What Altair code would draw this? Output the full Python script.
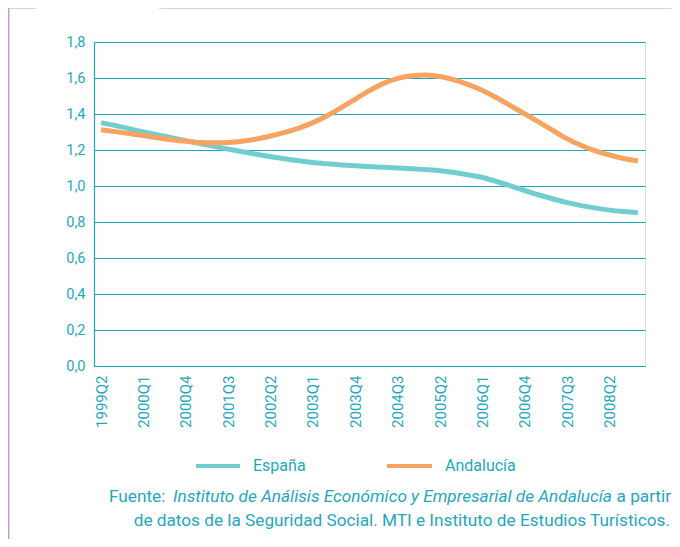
import altair as alt
import pandas as pd

# ---- data -------------------------------------------------------------
quarters = [f"{y}Q{q}" for y in range(1999, 2009) for q in range(1, 5)][1:]  # 1999Q2 .. 2008Q4
tick_labels = ["1999Q2", "2000Q1", "2000Q4", "2001Q3", "2002Q2", "2003Q1", "2003Q4",
               "2004Q3", "2005Q2", "2006Q1", "2006Q4", "2007Q3", "2008Q2"]
y_ticks = [0.0, 0.2, 0.4, 0.6, 0.8, 1.0, 1.2, 1.4, 1.6, 1.8]

series_names = ["España", "Andalucía"]
espana = [1.352, 1.336, 1.318, 1.300, 1.284, 1.268, 1.252, 1.236, 1.220, 1.205,
          1.190, 1.176, 1.163, 1.151, 1.140, 1.131, 1.123, 1.117, 1.112, 1.108,
          1.104, 1.100, 1.096, 1.091, 1.085, 1.075, 1.062, 1.047, 1.025, 1.000,
          0.975, 0.950, 0.928, 0.908, 0.891, 0.877, 0.866, 0.858, 0.852]
andalucia = [1.313, 1.302, 1.291, 1.280, 1.268, 1.257, 1.248, 1.242, 1.240, 1.242,
             1.249, 1.261, 1.278, 1.298, 1.322, 1.352, 1.390, 1.435, 1.483, 1.530,
             1.570, 1.598, 1.613, 1.617, 1.608, 1.590, 1.563, 1.530, 1.490, 1.445,
             1.400, 1.355, 1.308, 1.262, 1.225, 1.195, 1.172, 1.153, 1.139]
series_colors = ["#72CDD1", "#F8A35F"]

source_prefix = "Fuente:"
source_italic = "Instituto de Análisis Económico y Empresarial de Andalucía"
source_suffix = "a partir"
source_line2 = "de datos de la Seguridad Social. MTI e Instituto de Estudios Turísticos."

# ---- styling ------------------------------------------------------------
TEAL = "#1FA8BD"
PURPLE = "#C59BD2"
FONT = "Roboto"

df = pd.DataFrame({
    "trimestre": quarters * 2,
    "valor": espana + andalucia,
    "serie": [series_names[0]] * len(quarters) + [series_names[1]] * len(quarters),
    "orden": [0] * len(quarters) + [1] * len(quarters),
})

x_enc = alt.X("trimestre:O", sort=quarters,
              scale=alt.Scale(type="point", padding=0.5, domain=quarters),
              axis=alt.Axis(title=None, values=tick_labels, labelAngle=-90,
                            labelAlign="right", labelBaseline="middle",
                            labelPadding=9, ticks=False, grid=False,
                            domainColor=TEAL, domainWidth=1.2,
                            labelColor=TEAL, labelFontSize=15, labelFont=FONT))
y_enc = alt.Y("valor:Q", scale=alt.Scale(domain=[0, 1.8], nice=False),
              axis=alt.Axis(title=None, values=y_ticks, ticks=False,
                            labelExpr="replace(format(datum.value, '.1f'), '.', ',')",
                            labelPadding=9, grid=True, gridColor=TEAL, gridWidth=1,
                            domainColor=TEAL, domainWidth=1.2,
                            labelColor=TEAL, labelFontSize=14.5, labelFont=FONT))

lines = alt.Chart(df).mark_line(strokeWidth=5, interpolate="monotone", strokeCap="butt").encode(
    x=x_enc, y=y_enc,
    color=alt.Color("serie:N", scale=alt.Scale(domain=series_names, range=series_colors), legend=None),
    order=alt.Order("orden:Q"),
    detail="serie:N",
)

one = pd.DataFrame({"a": [0]})

def rule(x, x2, y, y2, color, width, dash=None):
    kw = dict(color=color, strokeWidth=width)
    if dash:
        kw["strokeDash"] = dash
    return alt.Chart(one).mark_rule(**kw).encode(
        x=alt.value(x), x2=alt.value(x2), y=alt.value(y), y2=alt.value(y2))

def text(t, x, y, align, size=14, style="normal"):
    return alt.Chart(pd.DataFrame({"t": [t]})).mark_text(
        align=align, baseline="middle", fontSize=size, font=FONT,
        fontStyle=style, color=TEAL).encode(
        text="t:N", x=alt.value(x), y=alt.value(y))

# plot origin is at page (94, 42)
OX, OY = 94, 42

legend_layers = [
    rule(196 - OX, 240 - OX, 466 - OY, 466 - OY, series_colors[0], 4),
    text(series_names[0], 253 - OX, 466 - OY, "left", 16),
    rule(387 - OX, 432 - OX, 466 - OY, 466 - OY, series_colors[1], 4),
    text(series_names[1], 445 - OX, 466 - OY, "left", 16),
]

SRC = 17.2
source_layers = [
    text(source_prefix, 109 - OX, 497 - OY, "left", SRC),
    text(source_italic, 173 - OX, 497 - OY, "left", SRC, "italic"),
    text(source_suffix, 671 - OX, 497 - OY, "right", SRC),
    text(source_line2, 670 - OX, 521 - OY, "right", SRC),
]

frame_layers = [
    rule(8.5 - OX, 8.5 - OX, 7.5 - OY, 547 - OY, PURPLE, 2),
    rule(8 - OX, 36 - OX, 7.5 - OY, 7.5 - OY, PURPLE, 2),
    rule(38 - OX, 38 - OX, 2 - OY, 8 - OY, PURPLE, 1.5, [1.5, 1.5]),
    rule(159 - OX, 680 - OX, 7.5 - OY, 7.5 - OY, PURPLE, 2),
]

chart = alt.layer(lines, *legend_layers, *source_layers, *frame_layers).properties(
    width=551, height=324,
    autosize=alt.AutoSizeParams(type="none"),
    padding={"left": 86, "top": 34, "right": 27, "bottom": 173},
).configure_view(stroke=None).configure(background="white")

chart.save("out.html", embed_options={"renderer": "svg", "actions": False})
